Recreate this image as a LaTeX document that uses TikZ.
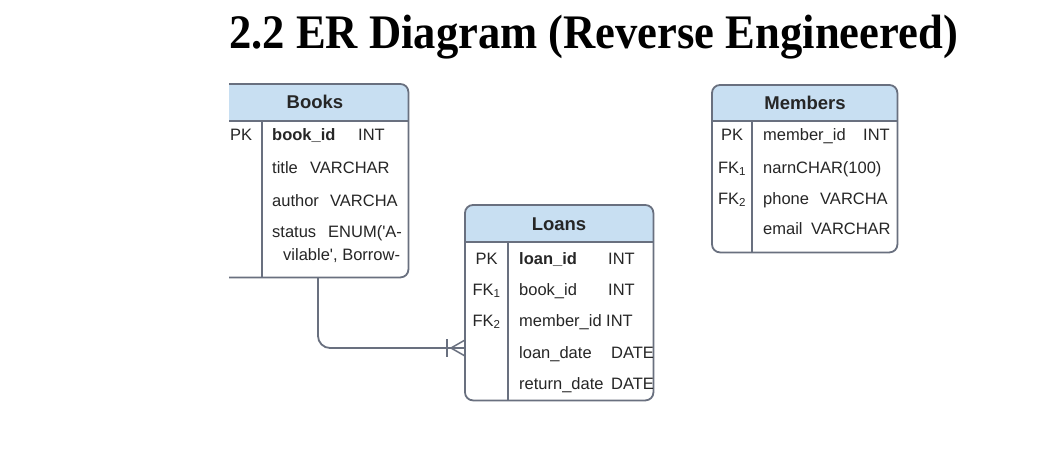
\documentclass[tikz,border=0pt]{standalone}
\usepackage{fontspec}
\setmainfont{Liberation Sans}
\newfontfamily\titlefont{Liberation Serif}
\usepackage{graphicx}
\definecolor{bordercol}{HTML}{69707F}
\definecolor{hdrcol}{HTML}{C8DFF2}
\newcommand{\fieldfont}{\fontsize{16.5}{18}\selectfont}
\newcommand{\hdrfont}{\fontsize{18.5}{20}\selectfont\bfseries}
\tikzset{
  x=1pt, y=-1pt,
  tblbox/.style={draw=none, inner sep=0pt, anchor=north west},
  border/.style={draw=bordercol, line width=1.8pt},
  hdr/.style={fill=hdrcol},
  fld/.style={font=\fieldfont, anchor=base west, inner sep=0pt, text=black!85},
  keyf/.style={font=\fieldfont, anchor=base, inner sep=0pt, text=black!85},
  hdrtext/.style={font=\hdrfont, inner sep=0pt, text=black!85},
  rel/.style={draw=bordercol, line width=1.8pt},
}
\begin{document}
\begin{tikzpicture}
\useasboundingbox (0,0) rectangle (1048,457);
\fill[white] (0,0) rectangle (1048,457);
% title
\node[anchor=base west, inner sep=0pt] (title) at (229,49)
  {\scalebox{1}[1.08]{\titlefont\bfseries\fontsize{44.6}{50}\selectfont 2.2 ER Diagram (Reverse Engineered)}};

% ---------- Books (clipped on the left) ----------
\begin{scope}
\clip (229,0) rectangle (1048,457);
\node[tblbox, minimum width=193pt, minimum height=193pt] (books) at (215,84) {};
\fill[hdr] (215,121) [rounded corners=8pt] -- (books.north west) -- (books.north east) [sharp corners] -- (408,121) -- cycle;
\draw[border, rounded corners=8pt] (books.north west) rectangle (books.south east);
\draw[border] (books.west |- 0,121) -- (books.east |- 0,121);
\draw[border] (262,121) -- (262,277);
\end{scope}
\node[hdrtext] (booksT) at (315,102) {Books};
\node[keyf, anchor=base west] (bk1) at (230,141) {PK};
\node[fld] (bf1) at (272,141) {\bfseries book\_id};
\node[fld] (bt1) at (358,141) {INT};
\node[fld] (bf2) at (272,174) {title};
\node[fld] (bt2) at (310,174) {VARCHAR};
\node[fld] (bf3) at (272,206) {author};
\node[fld] (bt3) at (330,206) {VARCHA};
\node[fld] (bf4) at (272,237) {status};
\node[fld] (bt4) at (328,237) {ENUM(\textquotesingle A-};
\node[fld] (bf5) at (283,260) {vilable\textquotesingle, Borrow-};

% ---------- Members ----------
\node[tblbox, minimum width=185pt, minimum height=167pt] (members) at (712,85) {};
\fill[hdr] (712,121) [rounded corners=8pt] -- (members.north west) -- (members.north east) [sharp corners] -- (897,121) -- cycle;
\draw[border, rounded corners=8pt] (members.north west) rectangle (members.south east);
\draw[border] (members.west |- 0,121) -- (members.east |- 0,121);
\draw[border] (752,121) -- (752,0 |- members.south);
\node[hdrtext] (membersT) at (805,103) {Members};
\node[keyf] (mk1) at (732,141) {PK};
\node[keyf] (mk2) at (732,173) {FK\textsubscript{1}};
\node[keyf] (mk3) at (732,204) {FK\textsubscript{2}};
\node[fld] (mf1) at (763,141) {member\_id};
\node[fld] (mt1) at (863,141) {INT};
\node[fld] (mf2) at (763,173) {narnCHAR(100)};
\node[fld] (mf3) at (763,204) {phone};
\node[fld] (mt3) at (820,204) {VARCHA};
\node[fld] (mf4) at (763,234) {email};
\node[fld] (mt4) at (811,234) {VARCHAR};

% ---------- Loans ----------
\node[tblbox, minimum width=188pt, minimum height=195pt] (loans) at (465,205) {};
\fill[hdr] (465,242) [rounded corners=8pt] -- (loans.north west) -- (loans.north east) [sharp corners] -- (653,242) -- cycle;
\draw[border, rounded corners=8pt] (loans.north west) rectangle (loans.south east);
\draw[border] (loans.west |- 0,242) -- (loans.east |- 0,242);
\draw[border] (508,242) -- (508,0 |- loans.south);
\node[hdrtext] (loansT) at (559,224) {Loans};
\node[keyf] (lk1) at (486.5,264) {PK};
\node[keyf] (lk2) at (486.5,295) {FK\textsubscript{1}};
\node[keyf] (lk3) at (486.5,326) {FK\textsubscript{2}};
\node[fld] (lf1) at (519,264) {\bfseries loan\_id};
\node[fld] (lt1) at (608,264) {INT};
\node[fld] (lf2) at (519,295) {book\_id};
\node[fld] (lt2) at (608,295) {INT};
\node[fld] (lf3) at (519,326) {member\_id};
\node[fld] (lt3) at (606,326) {INT};
\node[fld] (lf4) at (519,358) {loan\_date};
\node[fld] (lt4) at (611,358) {DATE};
\node[fld] (lf5) at (519,389) {return\_date};
\node[fld] (lt5) at (611,389) {DATE};

% ---------- relationship Books -> Loans ----------
\coordinate (bkfoot) at (318,277);
\coordinate (lnlevel) at (0,348);
\coordinate (crow) at (451,348);
\draw[rel, rounded corners=12pt] (bkfoot) |- (loans.west |- lnlevel);
\draw[rel] (447,339) -- (447,357);
\draw[rel, line width=1.5pt] (crow) -- (loans.west |- 0,340);
\draw[rel, line width=1.5pt] (crow) -- (loans.west |- 0,356);
\end{tikzpicture}
\end{document}
